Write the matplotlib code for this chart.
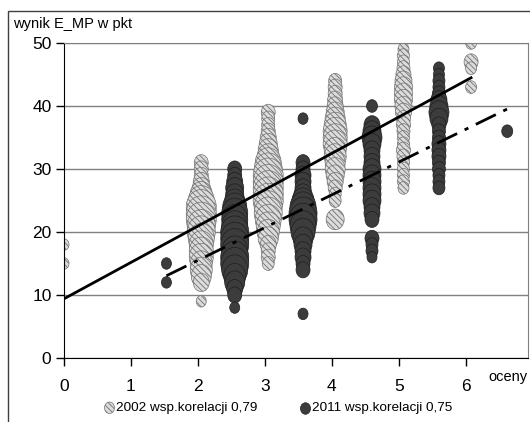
import numpy as np
import matplotlib
matplotlib.use('Agg')
import matplotlib.pyplot as plt
from matplotlib.markers import MarkerStyle
from matplotlib.transforms import Affine2D
from matplotlib.patches import Rectangle

plt.rcParams['font.family'] = ['Liberation Sans', 'DejaVu Sans']
plt.rcParams['hatch.linewidth'] = 0.6

# 2002 - grades and results (y), bubble sizes (diameter, px)
x2002 = [0, 2.05, 3.05, 4.05, 5.07, 6.08]
y2002 = [
    [18, 15],
    [31, 30, 29, 28, 27, 26, 25, 24, 23, 22, 21, 20, 19, 18, 17, 16, 15, 14, 13, 12, 9],
    [39, 38, 37, 36, 35, 34, 33, 32, 31, 30, 29, 28, 27, 26, 25, 24, 23, 22, 21, 20, 19, 18, 17, 16, 15],
    [44, 43, 42, 41, 40, 39, 38, 37, 36, 35, 34, 33, 32, 31, 30, 29, 28, 27, 26, 25, 22],
    [49, 48, 47, 46, 45, 44, 43, 42, 41, 40, 39, 38, 37, 36, 35, 34, 33, 32, 31, 30, 29, 28, 27],
    [50, 47, 46, 43],
]
s2002 = [
    [10, 10],
    [14, 14, 14, 16, 18, 22, 26, 30, 30, 30, 28, 28, 26, 24, 24, 24, 22, 22, 20, 16, 10],
    [14, 13, 13, 14, 16, 18, 20, 22, 26, 28, 30, 30, 30, 30, 30, 28, 28, 26, 24, 22, 20, 16, 14, 14, 12],
    [13, 14, 14, 15, 16, 18, 20, 22, 24, 24, 24, 22, 22, 20, 20, 18, 16, 14, 12, 12, 18],
    [11, 12, 12, 13, 15, 17, 18, 18, 18, 17, 16, 14, 14, 13, 12, 12, 14, 13, 12, 12, 12, 12, 11],
    [11, 14, 11, 11],
]

# 2011
x2011 = [1.53, 2.55, 3.57, 4.6, 5.6, 6.62]
y2011 = [
    [15, 12],
    [30, 29, 28, 27, 26, 25, 24, 23, 22, 21, 20, 19, 18, 17, 16, 15, 14, 13, 12, 11, 10, 8],
    [38, 31, 30, 29, 28, 27, 26, 25, 24, 23, 22, 21, 20, 19, 18, 17, 16, 15, 14, 7],
    [40, 37, 36, 35, 34, 33, 32, 31, 30, 29, 28, 27, 26, 25, 24, 23, 22, 19, 18, 17, 16],
    [46, 45, 44, 43, 42, 41, 40, 39, 38, 37, 36, 35, 34, 33, 32, 31, 30, 29, 28, 27],
    [36],
]
s2011 = [
    [10, 10],
    [14, 14, 16, 18, 18, 20, 24, 26, 26, 26, 28, 28, 28, 26, 28, 28, 26, 22, 20, 16, 14, 10],
    [10, 14, 14, 16, 16, 16, 18, 22, 26, 28, 28, 26, 24, 20, 18, 16, 16, 14, 14, 10],
    [11, 16, 18, 20, 18, 16, 16, 16, 18, 18, 18, 18, 18, 18, 16, 16, 14, 14, 12, 12, 10],
    [11, 11, 12, 12, 13, 16, 18, 20, 18, 14, 13, 13, 14, 14, 14, 13, 13, 12, 12, 12],
    [11],
]

# trend lines: intercept, slope
trend2002 = (9.4, 5.77)
trend2011 = (5.1, 5.2)

labels = ['2002 wsp.korelacji 0,79', '2011 wsp.korelacji 0,75']


def flat(xs, ys, ss):
    px, py, ps = [], [], []
    for x, yy, sz in zip(xs, ys, ss):
        for y, s in zip(yy, sz):
            px.append(x)
            py.append(y)
            ps.append((s * 0.72) ** 2)
    return np.array(px), np.array(py), np.array(ps)


fig = plt.figure(figsize=(5.3, 4.22), dpi=100)
ax = fig.add_axes([64 / 530, 1 - 358 / 422, (528 - 64) / 530, (358 - 43) / 422])

oval = MarkerStyle('o', transform=Affine2D().scale(1, 1.15))

ax.set_axisbelow(True)
ax.yaxis.grid(True, color='#808080', lw=1)

px, py, ps = flat(x2002, y2002, s2002)
h1 = ax.scatter(px, py, s=ps, marker=oval, facecolor='#dcdcdc', edgecolor='#707070',
                hatch='\\\\\\\\\\\\', linewidths=0.5, zorder=2)
px, py, ps = flat(x2011, y2011, s2011)
h2 = ax.scatter(px, py, s=ps, marker=oval, facecolor='#3c3c3c', edgecolor='#1e1e1e',
                linewidths=0.5, zorder=3)

xa = np.array([min(x2002), max(x2002)])
ax.plot(xa, trend2002[0] + trend2002[1] * xa, color='black', lw=2, zorder=4)
xb = np.array([min(x2011), max(x2011)])
ax.plot(xb, trend2011[0] + trend2011[1] * xb, color='black', lw=2,
        dashes=(8, 3, 1.5, 3), zorder=4)

ax.set_xlim(0, 6.93)
ax.set_ylim(0, 50)
ax.set_xticks(range(7))
ax.set_yticks(range(0, 51, 10))
ax.tick_params(axis='both', labelsize=12.5, length=6, width=1, color='black')
ax.tick_params(axis='x', pad=9)
ax.tick_params(axis='y', pad=3)
for sp in ['top', 'right']:
    ax.spines[sp].set_color('#808080')
for sp in ['left', 'bottom']:
    ax.spines[sp].set_color('black')

fig.text(13 / 530, 1 - 24 / 422, 'wynik E_MP w pkt', fontsize=10.5, va='center', ha='left')
fig.text(488 / 530, 1 - 377 / 422, 'oceny', fontsize=10.5, va='center', ha='left')

fig.patches.append(Rectangle((8 / 530, -0.1), 1.2, 1.1 - 11 / 422, transform=fig.transFigure,
                             fill=False, edgecolor='#404040', lw=1))

leg = fig.legend([h1, h2], labels, loc='center', bbox_to_anchor=(0.522, 0.033), ncol=2,
                 frameon=False, fontsize=9.7, handletextpad=-0.1, columnspacing=2.9,
                 scatterpoints=1, handlelength=1.2)
for h in leg.legend_handles:
    h.set_sizes([(10 * 0.72) ** 2])

fig.savefig('out.png', dpi=100)
